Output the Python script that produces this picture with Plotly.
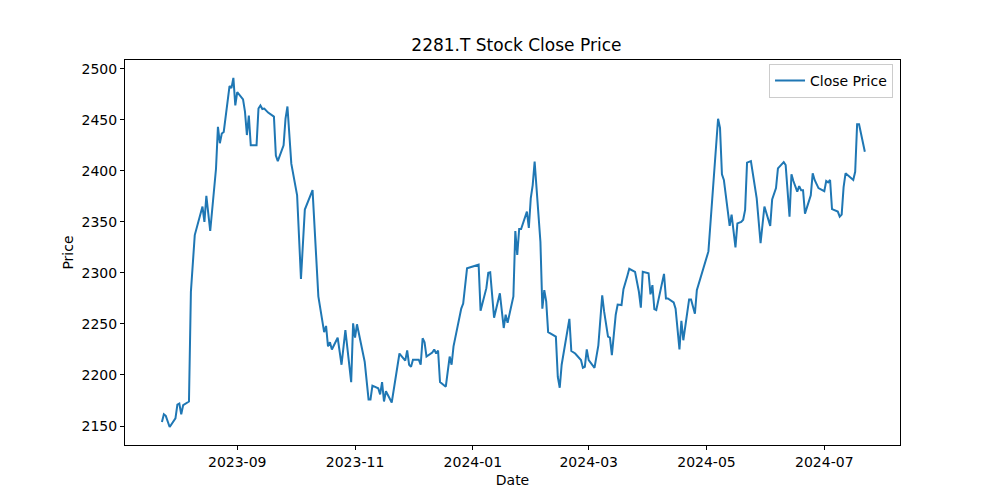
import plotly.graph_objects as go

# close prices (2281.T)
dates = [
    "2023-07-24", "2023-07-25", "2023-07-26", "2023-07-28", "2023-07-31",
    "2023-08-01", "2023-08-02", "2023-08-03", "2023-08-04", "2023-08-07",
    "2023-08-08", "2023-08-10", "2023-08-14", "2023-08-15", "2023-08-16",
    "2023-08-18", "2023-08-21", "2023-08-22", "2023-08-23", "2023-08-24",
    "2023-08-25", "2023-08-28", "2023-08-29", "2023-08-30", "2023-08-31",
    "2023-09-01", "2023-09-04", "2023-09-05", "2023-09-06", "2023-09-07",
    "2023-09-08", "2023-09-11", "2023-09-12", "2023-09-13", "2023-09-14",
    "2023-09-15", "2023-09-17", "2023-09-19", "2023-09-20", "2023-09-21",
    "2023-09-22", "2023-09-25", "2023-09-26", "2023-09-27", "2023-09-29",
    "2023-10-02", "2023-10-04", "2023-10-06", "2023-10-10", "2023-10-13",
    "2023-10-16", "2023-10-17", "2023-10-18", "2023-10-19", "2023-10-20",
    "2023-10-23", "2023-10-25", "2023-10-27", "2023-10-30", "2023-10-31",
    "2023-11-01", "2023-11-02", "2023-11-06", "2023-11-08", "2023-11-09",
    "2023-11-10", "2023-11-13", "2023-11-14", "2023-11-15", "2023-11-16",
    "2023-11-17", "2023-11-20", "2023-11-24", "2023-11-27", "2023-11-28",
    "2023-11-29", "2023-11-30", "2023-12-01", "2023-12-04", "2023-12-05",
    "2023-12-06", "2023-12-07", "2023-12-08", "2023-12-11", "2023-12-12",
    "2023-12-13", "2023-12-14", "2023-12-15", "2023-12-18", "2023-12-20",
    "2023-12-21", "2023-12-22", "2023-12-26", "2023-12-27", "2023-12-29",
    "2024-01-04", "2024-01-05", "2024-01-08", "2024-01-09", "2024-01-10",
    "2024-01-12", "2024-01-15", "2024-01-17", "2024-01-18", "2024-01-19",
    "2024-01-22", "2024-01-23", "2024-01-24", "2024-01-25", "2024-01-26",
    "2024-01-29", "2024-01-30", "2024-01-31", "2024-02-01", "2024-02-02",
    "2024-02-05", "2024-02-06", "2024-02-07", "2024-02-08", "2024-02-09",
    "2024-02-13", "2024-02-14", "2024-02-15", "2024-02-16", "2024-02-20",
    "2024-02-21", "2024-02-23", "2024-02-26", "2024-02-27", "2024-02-28",
    "2024-02-29", "2024-03-01", "2024-03-04", "2024-03-06", "2024-03-08",
    "2024-03-09", "2024-03-11", "2024-03-12", "2024-03-13", "2024-03-15",
    "2024-03-16", "2024-03-18", "2024-03-19", "2024-03-21", "2024-03-22",
    "2024-03-25", "2024-03-26", "2024-03-27", "2024-03-28", "2024-03-29",
    "2024-04-01", "2024-04-02", "2024-04-03", "2024-04-04", "2024-04-05",
    "2024-04-09", "2024-04-10", "2024-04-11", "2024-04-14", "2024-04-15",
    "2024-04-17", "2024-04-18", "2024-04-19", "2024-04-22", "2024-04-23",
    "2024-04-25", "2024-04-26", "2024-05-02", "2024-05-07", "2024-05-08",
    "2024-05-09", "2024-05-10", "2024-05-13", "2024-05-14", "2024-05-16",
    "2024-05-17", "2024-05-19", "2024-05-20", "2024-05-21", "2024-05-22",
    "2024-05-24", "2024-05-27", "2024-05-29", "2024-05-31", "2024-06-03",
    "2024-06-04", "2024-06-06", "2024-06-07", "2024-06-10", "2024-06-11",
    "2024-06-13", "2024-06-14", "2024-06-15", "2024-06-17", "2024-06-18",
    "2024-06-19", "2024-06-20", "2024-06-21", "2024-06-24", "2024-06-25",
    "2024-06-26", "2024-06-28", "2024-07-01", "2024-07-02", "2024-07-03",
    "2024-07-04", "2024-07-05", "2024-07-08", "2024-07-09", "2024-07-10",
    "2024-07-11", "2024-07-12", "2024-07-16", "2024-07-17", "2024-07-18",
    "2024-07-19", "2024-07-22",
]
close_price = [
    2154, 2161.5, 2160, 2149, 2157.5,
    2171, 2172, 2161.5, 2170.5, 2174,
    2281.5, 2337, 2365, 2350, 2375.5,
    2341, 2402, 2443, 2427, 2436.5,
    2438, 2483, 2481, 2491, 2464,
    2477, 2470, 2458, 2435, 2454,
    2425, 2425, 2461, 2464, 2460.5,
    2461, 2457, 2454, 2453, 2415,
    2409.5, 2425, 2451, 2463, 2407,
    2376, 2294, 2362, 2381, 2277,
    2242, 2248, 2228, 2232, 2225,
    2236.5, 2210, 2244, 2193, 2250.6,
    2236.5, 2249.6, 2213, 2176, 2176,
    2189.5, 2187, 2181, 2193, 2174,
    2184, 2173, 2221, 2214, 2224,
    2210, 2208, 2215, 2215, 2210,
    2236, 2232, 2218, 2222, 2225,
    2221, 2224, 2193, 2188.5, 2218,
    2210, 2228, 2265, 2270, 2304.5,
    2308, 2263, 2285, 2300, 2300.5,
    2256, 2280, 2246, 2259, 2251,
    2277, 2341, 2317.5, 2343, 2343,
    2360, 2344, 2373, 2386, 2409,
    2330.5, 2265, 2283, 2272, 2242,
    2237.5, 2198, 2187.5, 2210, 2255,
    2223.5, 2221, 2214.6, 2207, 2208,
    2225, 2214.6, 2207, 2229, 2278,
    2262, 2237.5, 2236.5, 2219.5, 2259,
    2269, 2268.5, 2284, 2297, 2304,
    2301, 2291, 2281.5, 2266, 2301,
    2299.6, 2279, 2288, 2264.6, 2263.6,
    2299, 2275, 2275, 2271, 2265,
    2225, 2253, 2234, 2274, 2274,
    2260, 2283, 2321, 2451, 2442,
    2396.5, 2391, 2346, 2357, 2325,
    2348.5, 2350, 2352, 2361.6, 2408,
    2409.5, 2373, 2329, 2365, 2346,
    2372, 2383, 2402.4, 2408.5, 2405.6,
    2355, 2396.5, 2390, 2379.5, 2385,
    2381, 2381, 2358, 2376, 2397.5,
    2391, 2383, 2380, 2390, 2388.7,
    2391, 2362.5, 2360, 2355, 2357,
    2384, 2397.5, 2391, 2399, 2445.5,
    2445.5, 2418.7,
]
price_ticks = [2150, 2200, 2250, 2300, 2350, 2400, 2450, 2500]

font = "DejaVu Sans, Liberation Sans, sans-serif"

fig = go.Figure()
fig.add_trace(go.Scatter(x=dates, y=close_price, mode="lines",
                         name="Close Price",
                         line=dict(color="#1f77b4", width=2)))

axis_style = dict(showline=True, linecolor="black", linewidth=1, mirror=True,
                  showgrid=False, zeroline=False, ticks="outside", ticklen=4,
                  tickcolor="black", tickfont=dict(size=14, color="black"))

# the page body has an 8px margin, so the figure is 8px smaller and shifted
fig.update_layout(
    width=992, height=492,
    margin=dict(l=117, r=100, t=52, b=55),
    paper_bgcolor="white", plot_bgcolor="white",
    font=dict(family=font, color="black"),
    title=dict(text="2281.T Stock Close Price", x=0.5125, xanchor="center",
               yref="container", y=1 - 37 / 492, yanchor="middle",
               font=dict(size=17, color="black")),
    xaxis=dict(axis_style, type="date",
               range=["2023-07-04 21:00", "2024-08-09 05:00"],
               tick0="2023-09-01", dtick="M2", tickformat="%Y-%m",
               title=dict(text="Date", font=dict(size=14), standoff=6)),
    yaxis=dict(axis_style, range=[2131.4, 2508.5], tickvals=price_ticks,
               title=dict(text="Price", font=dict(size=14), standoff=4)),
    legend=dict(x=0.991, y=0.99, xanchor="right", yanchor="top",
                bgcolor="rgba(255,255,255,0.8)", bordercolor="#cccccc",
                borderwidth=1, font=dict(size=14)),
    showlegend=True,
)

fig.write_html("out.html")
